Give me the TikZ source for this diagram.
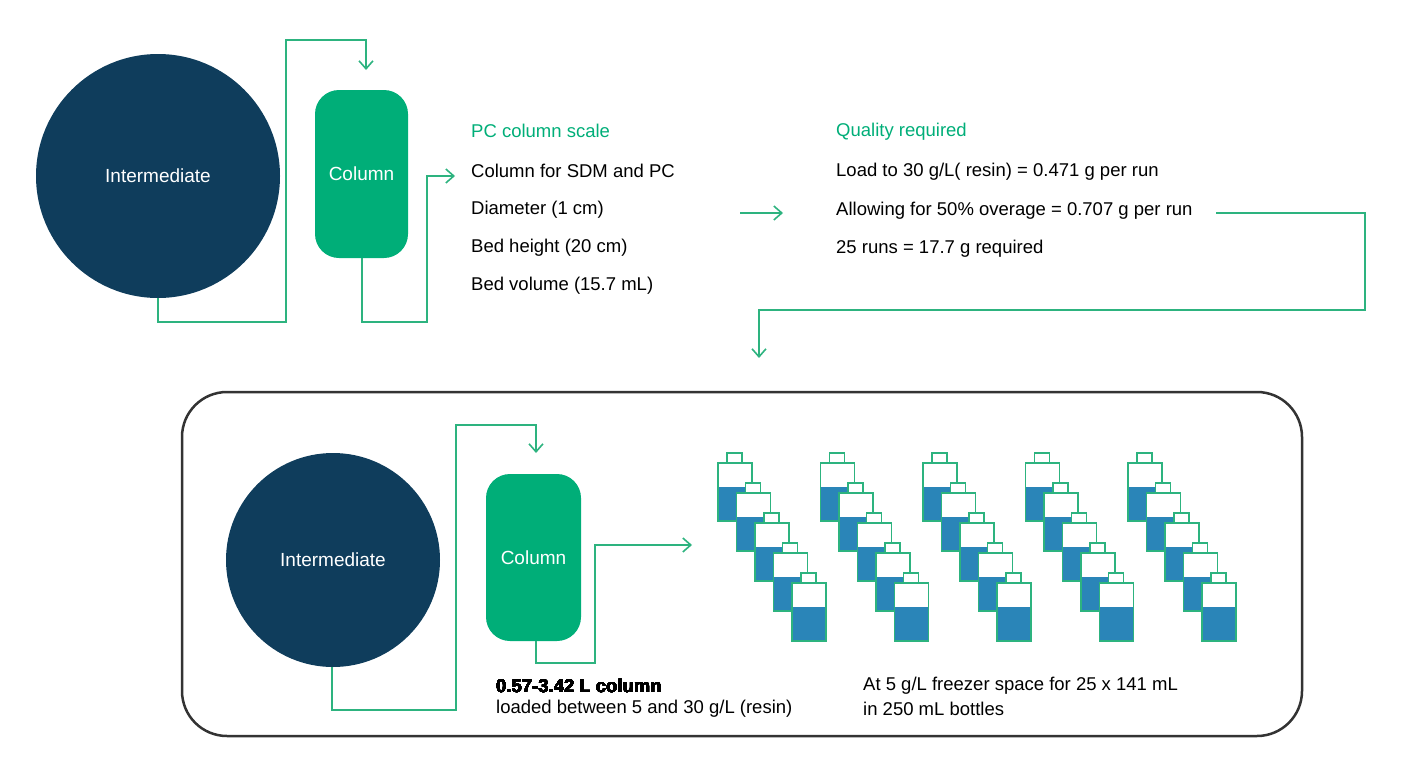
\documentclass[tikz,border=0pt]{standalone}
\usepackage{fontspec}
\setmainfont{Liberation Sans}[BoldFont={Liberation Sans Bold}]
\definecolor{navy}{HTML}{0F3D5C}
\definecolor{teal}{HTML}{00AE78}
\definecolor{pipe}{HTML}{2DB37F}
\definecolor{bottleblue}{HTML}{2A85B8}
\definecolor{frame}{HTML}{333333}
\tikzset{
  tank/.style={circle,fill=navy,minimum size=#1,inner sep=0pt,text=white,font=\fontsize{19}{22}\selectfont},
  col/.style={rounded corners=24pt,fill=teal,text=white,font=\fontsize{19}{22}\selectfont},
  pipe/.style={draw=pipe,line width=1.6pt},
  flow/.style={pipe,-{Straight Barb[length=8pt,width=14pt]}},
  txt/.style={anchor=west,inner sep=0pt,font=\fontsize{18.5}{22}\selectfont},
  head/.style={txt,text=teal}
}
\usetikzlibrary{arrows.meta}
\newcommand{\bottle}[2]{%
  \fill[white] (#1,#2) rectangle ++(34,24);
  \fill[bottleblue] (#1,#2+24) rectangle ++(34,34);
  \draw[pipe,line width=1.2pt] (#1,#2) rectangle ++(34,58);
  \draw[pipe,line width=1.2pt,fill=white] (#1+9,#2) rectangle ++(15,-10);
}
\begin{document}
\begin{tikzpicture}[x=1pt,y=-1pt]
  \useasboundingbox (0,0) rectangle (1411,779);
  % top row
  \node[tank=244pt] (int1) at (158,176) {Intermediate};
  \node[col,minimum width=93pt,minimum height=168pt] (col1) at (361.5,174) {Column};
  \draw[flow] (158,298) -- (158,322) -- (286,322) -- (286,40) -- (366,40) -- (366,70);
  \draw[flow] (362,258) -- (362,322) -- (427,322) -- (427,176) -- (455,176);
  \node[head] (pc) at (471,131) {PC column scale};
  \node[txt] at (471,171) {Column for SDM and PC};
  \node[txt] at (471,210) {Diameter (1 cm)};
  \node[txt] at (471,248) {Bed height (20 cm)};
  \node[txt] at (471,286) {Bed volume (15.7 mL)};
  \draw[flow] (740,213) -- (783,213);
  \node[head] (qr) at (836,132) {Quality required};
  \node[txt] at (836,172) {Load to 30 g/L( resin) = 0.471 g per run};
  \node[txt] at (836,211) {Allowing for 50\% overage = 0.707 g per run};
  \node[txt] at (836,249) {25 runs = 17.7 g required};
  \draw[flow] (1216,213) -- (1365,213) -- (1365,310) -- (759,310) -- (759,358);
  % bottom box
  \draw[frame,line width=2.5pt,rounded corners=45pt] (182,392) rectangle (1302,736);
  \node[tank=214pt] (int2) at (333,560) {Intermediate};
  \node[col,minimum width=95pt,minimum height=167pt] (col2) at (533.5,557.5) {Column};
  \draw[flow] (332,667) -- (332,710) -- (456,710) -- (456,425) -- (536,425) -- (536,453);
  \draw[flow] (536,641) -- (536,663) -- (595,663) -- (595,545) -- (692,545);
  \foreach \g in {0,...,4}
    \foreach \b in {0,...,4}
      \bottle{718+102.5*\g+18.5*\b}{463+30*\b}
  \node[txt,font=\fontsize{18.5}{22}\selectfont\bfseries] at (496,686) {0.57-3.42 L column};
  \node[txt] at (496,709) {loaded between 5 and 30 g/L (resin)};
  \node[txt] at (863,686) {At 5 g/L freezer space for 25 x 141 mL};
  \node[txt] at (863,709) {in 250 mL bottles};
\end{tikzpicture}
\end{document}
